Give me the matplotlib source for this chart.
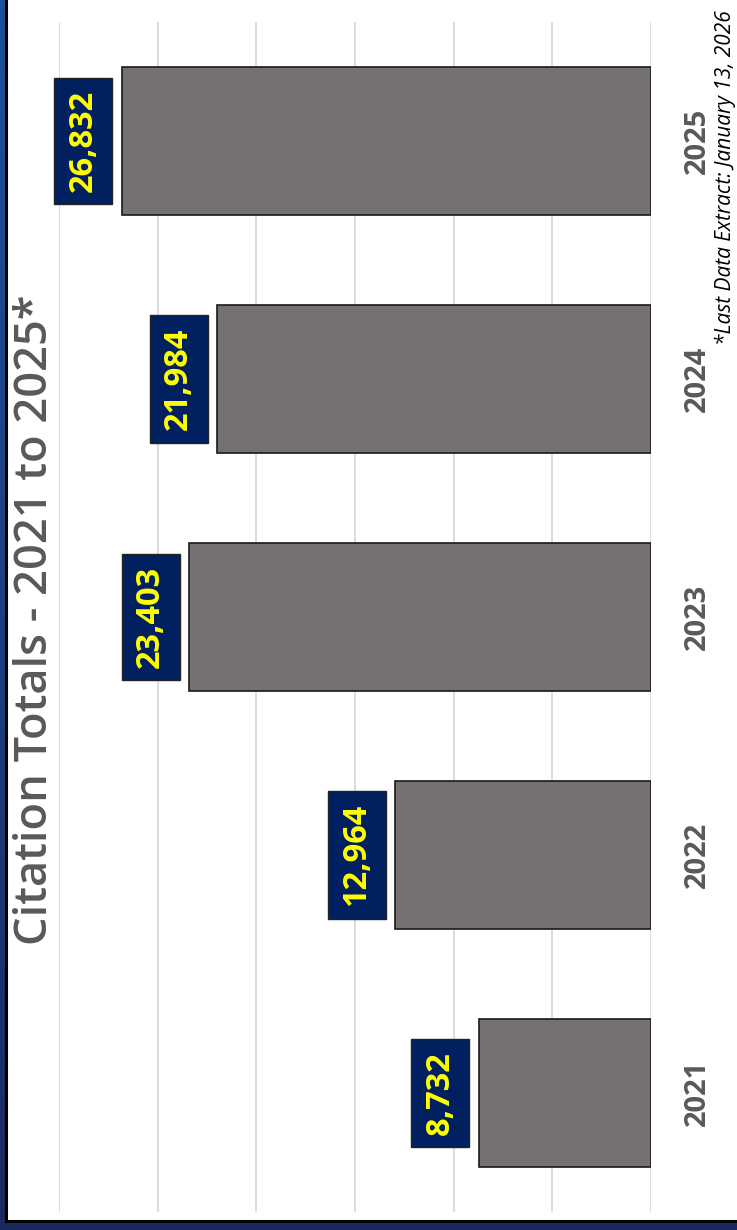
import matplotlib
matplotlib.use("Agg")
import matplotlib.pyplot as plt
import numpy as np
from matplotlib.patches import Rectangle
from matplotlib.colors import LinearSegmentedColormap

years = ["2021", "2022", "2023", "2024", "2025"]
totals = [8732, 12964, 23403, 21984, 26832]
value_labels = ["8,732", "12,964", "23,403", "21,984", "26,832"]
title = "Citation Totals - 2021 to 2025*"
footnote = "*Last Data Extract: January 13, 2026"

W, H = 737, 1230
fig = plt.figure(figsize=(W / 100, H / 100), dpi=100)

# background frame with gradient
bg = fig.add_axes([0, 0, 1, 1])
bg.set_xlim(0, W)
bg.set_ylim(H, 0)
bg.axis("off")
grad = np.linspace(0, 1, 256).reshape(-1, 1)
cmap = LinearSegmentedColormap.from_list("bgc", ["#1f4f9a", "#1d3f80", "#1b2a5e"])
bg.imshow(grad, extent=[0, W, H, 0], aspect="auto", cmap=cmap, zorder=0)
bg.add_patch(Rectangle((6, -5), W + 10, 1221 + 5, facecolor="white",
                       edgecolor="black", linewidth=2.2, zorder=1))

ax = fig.add_axes([59 / W, 18 / H, (651 - 59) / W, 1190 / H])
ax.set_facecolor("none")
pos = np.arange(len(years))
ax.barh(pos, totals, height=148 / 238, color="#767171",
        edgecolor="#1a1a1a", linewidth=1.2, zorder=3)
ax.set_xlim(30000, 0)
ax.set_ylim(-0.5, 4.5)
ax.set_xticks(np.arange(0, 30001, 5000))
ax.set_xticklabels([])
ax.tick_params(axis="x", length=0)
ax.grid(axis="x", color="#d9d9d9", linewidth=1.3, zorder=0)
for s in ax.spines.values():
    s.set_visible(False)
ax.yaxis.tick_right()
ax.set_yticks(pos)
ax.set_yticklabels(years, rotation=90, va="center", color="#595959",
                   fontsize=21, fontweight="bold", family="Open Sans")
ax.tick_params(axis="y", length=0, pad=23)

for p, v, lab in zip(pos, totals, value_labels):
    ax.annotate(lab, xy=(v, p), xytext=(-38.5 * 0.72, 0), textcoords="offset points",
                rotation=90, ha="center", va="center", color="#ffff00",
                fontsize=23.5, fontweight="bold", family="Open Sans",
                bbox=dict(boxstyle="square,pad=0.38", facecolor="#002060",
                          edgecolor="#222222", linewidth=1.0), zorder=5)

fig.text(13 / W, (H - 620) / H, title, rotation=90, ha="left", va="center",
         color="#595959", fontsize=32.5, fontweight="semibold", family="Open Sans")
fig.text(715 / W, (H - 345) / H, footnote, rotation=90, ha="left", va="bottom",
         color="black", fontsize=15, style="italic", family="Open Sans")

fig.savefig("out.png", dpi=100)
